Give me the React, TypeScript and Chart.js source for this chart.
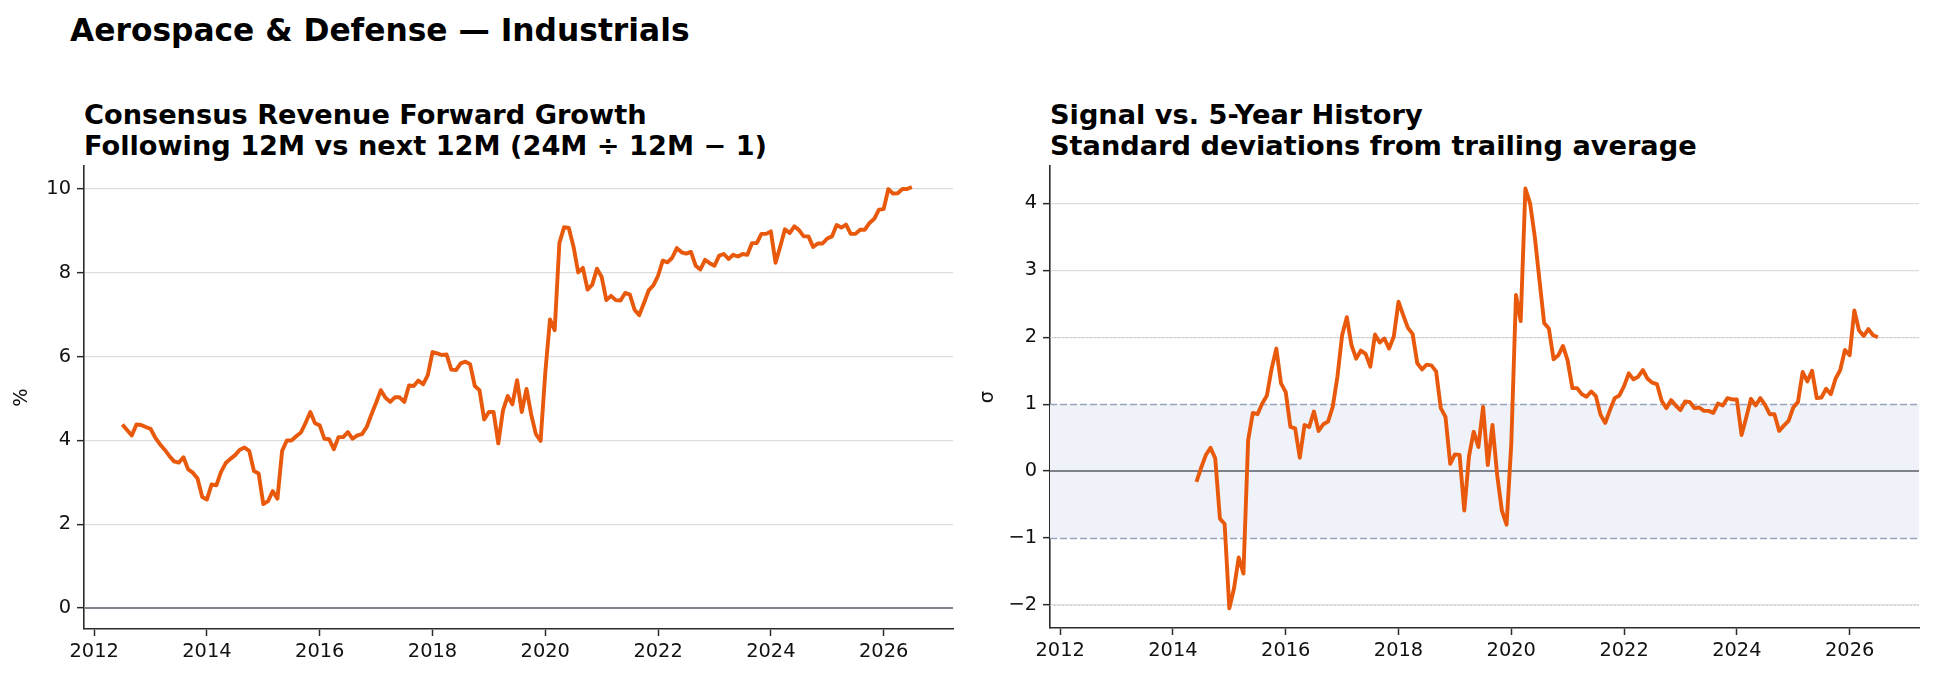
import React, { useEffect, useRef } from 'react';
import { Chart, registerables } from 'chart.js';

Chart.register(...registerables);

// ---------- data ----------
const START_YEAR = 2012;
const START_MONTH = 7; // first observation: July 2012, monthly

const growthValues: number[] = [
  // 2012 Jul-Dec
  4.38, 4.25, 4.12, 4.38, 4.37, 4.32,
  // 2013
  4.28, 4.07, 3.91, 3.78, 3.63, 3.5, 3.47, 3.6, 3.31, 3.23, 3.09, 2.65,
  // 2014
  2.59, 2.95, 2.93, 3.25, 3.46, 3.56, 3.65, 3.78, 3.83, 3.75, 3.27, 3.21,
  // 2015
  2.48, 2.55, 2.79, 2.61, 3.75, 4.0, 4.0, 4.1, 4.19, 4.42, 4.68, 4.41,
  // 2016
  4.36, 4.04, 4.03, 3.79, 4.08, 4.08, 4.2, 4.04, 4.12, 4.15, 4.32, 4.62,
  // 2017
  4.9, 5.2, 5.02, 4.92, 5.03, 5.03, 4.92, 5.31, 5.3, 5.43, 5.34, 5.56,
  // 2018
  6.11, 6.08, 6.04, 6.05, 5.69, 5.68, 5.84, 5.88, 5.82, 5.3, 5.2, 4.5,
  // 2019
  4.68, 4.68, 3.93, 4.72, 5.06, 4.86, 5.44, 4.68, 5.23, 4.62, 4.15, 3.99,
  // 2020
  5.62, 6.89, 6.63, 8.71, 9.09, 9.07, 8.63, 8.01, 8.12, 7.6, 7.72, 8.1,
  // 2021
  7.9, 7.35, 7.45, 7.35, 7.34, 7.52, 7.48, 7.12, 6.99, 7.28, 7.58, 7.7,
  // 2022
  7.93, 8.29, 8.25, 8.36, 8.59, 8.49, 8.46, 8.5, 8.17, 8.08, 8.31, 8.23,
  // 2023
  8.17, 8.41, 8.45, 8.33, 8.43, 8.39, 8.45, 8.43, 8.71, 8.71, 8.93, 8.93,
  // 2024
  8.99, 8.24, 8.63, 9.04, 8.95, 9.11, 9.02, 8.87, 8.87, 8.62, 8.7, 8.7,
  // 2025
  8.82, 8.87, 9.14, 9.08, 9.15, 8.93, 8.93, 9.03, 9.03, 9.19, 9.29, 9.51,
  // 2026 Jan-Jul
  9.52, 10.0, 9.89, 9.9, 10.0, 10.0, 10.05,
];

// z-score series starts June 2014 (23 months after the first observation)
const zLeadingGap = 23;
const zValues: number[] = [
  // 2014 Jun-Dec
  -0.16, 0.05, 0.24, 0.35, 0.19, -0.71, -0.79,
  // 2015
  -2.05, -1.75, -1.29, -1.53, 0.46, 0.87, 0.85, 1.01, 1.13, 1.53, 1.83, 1.31,
  // 2016
  1.18, 0.66, 0.64, 0.2, 0.69, 0.66, 0.89, 0.6, 0.7, 0.74, 0.96, 1.41,
  // 2017
  2.03, 2.3, 1.88, 1.68, 1.8, 1.75, 1.56, 2.04, 1.92, 1.98, 1.83, 2.01,
  // 2018
  2.53, 2.33, 2.14, 2.05, 1.61, 1.52, 1.59, 1.58, 1.49, 0.94, 0.81, 0.11,
  // 2019
  0.25, 0.24, -0.59, 0.22, 0.59, 0.36, 0.96, 0.09, 0.69, -0.06, -0.59, -0.8,
  // 2020
  0.41, 2.63, 2.24, 4.22, 4.0, 3.5, 2.85, 2.21, 2.13, 1.67, 1.73, 1.87,
  // 2021
  1.65, 1.24, 1.24, 1.15, 1.11, 1.19, 1.12, 0.84, 0.72, 0.91, 1.09, 1.13,
  // 2022
  1.27, 1.46, 1.37, 1.41, 1.51, 1.38, 1.32, 1.3, 1.05, 0.94, 1.06, 0.98,
  // 2023
  0.91, 1.04, 1.03, 0.94, 0.95, 0.9, 0.9, 0.87, 1.01, 0.98, 1.09, 1.07,
  // 2024
  1.07, 0.54, 0.8, 1.08, 0.98, 1.09, 0.99, 0.85, 0.85, 0.6, 0.68, 0.75,
  // 2025
  0.95, 1.03, 1.48, 1.34, 1.5, 1.09, 1.1, 1.23, 1.15, 1.38, 1.51, 1.81,
  // 2026 Jan-Jul
  1.73, 2.4, 2.1, 2.02, 2.12, 2.03, 2.0,
];

const xTickYears = [2012, 2014, 2016, 2018, 2020, 2022, 2024, 2026];
const growthTicks = [0, 2, 4, 6, 8, 10];
const zTicks = [-2, -1, 0, 1, 2, 3, 4];
const bandLevels = [-1, 1];
const dottedLevels = [-2, 2];
const zeroLevel = 0;

const SUPTITLE = 'Aerospace & Defense — Industrials';
const LEFT_TITLE = ['Consensus Revenue Forward Growth', 'Following 12M vs next 12M (24M ÷ 12M − 1)'];
const RIGHT_TITLE = ['Signal vs. 5-Year History', 'Standard deviations from trailing average'];
const LEFT_YLABEL = '%';
const RIGHT_YLABEL = 'σ';

// ---------- styling ----------
const FONT = "'DejaVu Sans', 'Liberation Sans', sans-serif";
const LINE_COLOR = '#e8590c';
const SPINE = '#2b2b2b';
const GRID = '#dddddd';
const TICK_FONT = 19.4;

const monthX = (i: number) => START_YEAR + (START_MONTH - 1 + i) / 12;

const fmt = (v: number) => (v < 0 ? '\u2212' + Math.abs(v) : String(v));

type Extra = {
  yLabel: string;
  zero?: number;
  band?: number[];
  dotted?: number[];
};

const annotationPlugin = {
  id: 'annot',
  beforeDatasetsDraw(chart: any, _args: any, opts: any) {
    const ex: Extra = opts.extra;
    const { ctx, chartArea } = chart;
    const y = chart.scales.y;
    ctx.save();
    if (ex.band) {
      const y1 = y.getPixelForValue(ex.band[1]);
      const y0 = y.getPixelForValue(ex.band[0]);
      ctx.fillStyle = '#eff3f9';
      ctx.fillRect(chartArea.left, y1, chartArea.right - chartArea.left, y0 - y1);
      ctx.strokeStyle = '#98a4bb';
      ctx.lineWidth = 1.4;
      ctx.setLineDash([7, 3]);
      for (const v of ex.band) {
        const py = Math.round(y.getPixelForValue(v)) + 0.5;
        ctx.beginPath();
        ctx.moveTo(chartArea.left, py);
        ctx.lineTo(chartArea.right, py);
        ctx.stroke();
      }
    }
    if (ex.dotted) {
      ctx.strokeStyle = '#b9c2d3';
      ctx.lineWidth = 1.2;
      ctx.setLineDash([1.5, 2.5]);
      for (const v of ex.dotted) {
        const py = Math.round(y.getPixelForValue(v)) + 0.5;
        ctx.beginPath();
        ctx.moveTo(chartArea.left, py);
        ctx.lineTo(chartArea.right, py);
        ctx.stroke();
      }
    }
    if (ex.zero !== undefined) {
      ctx.setLineDash([]);
      ctx.strokeStyle = '#7d828c';
      ctx.lineWidth = 2;
      const py = y.getPixelForValue(ex.zero);
      ctx.beginPath();
      ctx.moveTo(chartArea.left, py);
      ctx.lineTo(chartArea.right, py);
      ctx.stroke();
    }
    ctx.restore();
  },
  afterDraw(chart: any, _args: any, opts: any) {
    const ex: Extra = opts.extra;
    const { ctx, chartArea } = chart;
    ctx.save();
    ctx.translate(chartArea.left - 62, (chartArea.top + chartArea.bottom) / 2);
    ctx.rotate(-Math.PI / 2);
    ctx.font = `${TICK_FONT}px ${FONT}`;
    ctx.fillStyle = '#111';
    ctx.textAlign = 'center';
    ctx.textBaseline = 'middle';
    ctx.fillText(ex.yLabel, 0, 0);
    ctx.restore();
  },
};

type PanelProps = {
  left: number;
  width: number;
  padRight: number;
  yAxisWidth: number;
  xAxisHeight: number;
  values: (number | null)[];
  yMin: number;
  yMax: number;
  yTicks: number[];
  extra: Extra;
};

const CANVAS_TOP = 140;
const CANVAS_H = 539;
const PAD_TOP = 26;

function Panel(p: PanelProps) {
  const ref = useRef<HTMLCanvasElement | null>(null);
  useEffect(() => {
    if (!ref.current) return;
    const points = p.values.map((v, i) => ({ x: monthX(i), y: v }));
    const chart = new Chart(ref.current, {
      type: 'line',
      data: {
        datasets: [
          {
            data: points as any,
            borderColor: LINE_COLOR,
            borderWidth: 3.9,
            pointRadius: 0,
            fill: false,
            tension: 0,
            spanGaps: false,
            borderJoinStyle: 'round',
            borderCapStyle: 'butt',
          },
        ],
      },
      options: {
        animation: false,
        responsive: false,
        maintainAspectRatio: false,
        devicePixelRatio: 1,
        layout: { padding: { left: 0, top: PAD_TOP, right: p.padRight, bottom: 0 } },
        plugins: {
          legend: { display: false },
          tooltip: { enabled: false },
          title: { display: false },
          annot: { extra: p.extra },
        } as any,
        scales: {
          x: {
            type: 'linear',
            min: 2011.82,
            max: 2027.23,
            afterBuildTicks: (s: any) => {
              s.ticks = xTickYears.map((v) => ({ value: v }));
            },
            afterFit: (s: any) => {
              s.height = p.xAxisHeight;
            },
            ticks: {
              callback: (v: any) => String(v),
              font: { family: FONT, size: TICK_FONT },
              color: '#111',
              padding: 4,
              maxRotation: 0,
              autoSkip: false,
            },
            grid: {
              drawOnChartArea: false,
              drawTicks: true,
              tickLength: 7,
              tickColor: SPINE,
              tickWidth: 1.5,
            },
            border: { display: true, color: SPINE, width: 1.6 },
          },
          y: {
            type: 'linear',
            min: p.yMin,
            max: p.yMax,
            afterBuildTicks: (s: any) => {
              s.ticks = p.yTicks.map((v) => ({ value: v }));
            },
            afterFit: (s: any) => {
              s.width = p.yAxisWidth;
            },
            ticks: {
              callback: (v: any) => fmt(Number(v)),
              font: { family: FONT, size: TICK_FONT },
              color: '#111',
              padding: 6,
              autoSkip: false,
            },
            grid: {
              drawOnChartArea: true,
              color: GRID,
              lineWidth: 1.3,
              drawTicks: true,
              tickLength: 7,
              tickColor: SPINE,
              tickWidth: 1.5,
            },
            border: { display: true, color: SPINE, width: 1.6 },
          },
        },
      },
      plugins: [annotationPlugin],
    });
    return () => chart.destroy();
  }, []);
  return (
    <canvas
      ref={ref}
      width={p.width}
      height={CANVAS_H}
      style={{ position: 'absolute', left: p.left, top: CANVAS_TOP, width: p.width, height: CANVAS_H }}
    />
  );
}

const titleLine = (text: string, left: number, baseline: number, size: number) => (
  <div
    key={text}
    style={{
      position: 'absolute',
      left,
      top: baseline - 0.846 * size,
      fontFamily: FONT,
      fontWeight: 'bold',
      fontSize: size,
      lineHeight: `${size}px`,
      whiteSpace: 'nowrap',
      color: '#000',
    }}
  >
    {text}
  </div>
);

export default function App() {
  const zSeries: (number | null)[] = [...Array(zLeadingGap).fill(null), ...zValues];
  return (
    <div style={{ position: 'absolute', left: 0, top: 0, width: 1934, height: 679, background: '#fff' }}>
      {titleLine(SUPTITLE, 70, 41, 31.3)}
      {titleLine(LEFT_TITLE[0], 84, 124, 27.2)}
      {titleLine(LEFT_TITLE[1], 84, 155, 27.2)}
      {titleLine(RIGHT_TITLE[0], 1050, 124, 27.2)}
      {titleLine(RIGHT_TITLE[1], 1050, 155, 27.2)}
      <Panel
        left={0}
        width={970}
        padRight={17}
        yAxisWidth={84}
        xAxisHeight={50}
        values={growthValues}
        yMin={-0.5}
        yMax={10.55}
        yTicks={growthTicks}
        extra={{ yLabel: LEFT_YLABEL, zero: zeroLevel }}
      />
      <Panel
        left={970}
        width={964}
        padRight={15}
        yAxisWidth={80}
        xAxisHeight={51}
        values={zSeries}
        yMin={-2.343}
        yMax={4.557}
        yTicks={zTicks}
        extra={{ yLabel: RIGHT_YLABEL, zero: zeroLevel, band: bandLevels, dotted: dottedLevels }}
      />
    </div>
  );
}
